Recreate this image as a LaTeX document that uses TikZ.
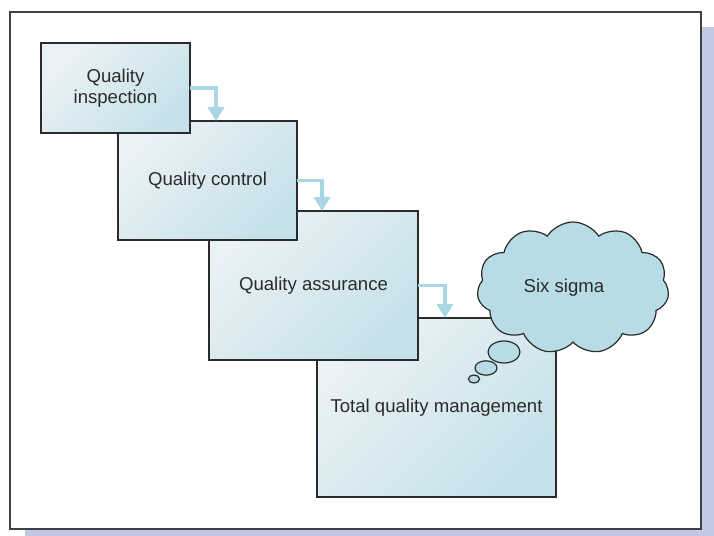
\documentclass[tikz,border=0pt]{standalone}
\usepackage{fontspec}
\setmainfont{Liberation Sans}
\usetikzlibrary{arrows.meta,shapes.symbols}
\definecolor{ink}{HTML}{2B2B2B}
\definecolor{frameline}{HTML}{3F3F3F}
\definecolor{shadow}{HTML}{C0C8E6}
\definecolor{paleblue}{HTML}{EAF2F6}
\definecolor{iceblue}{HTML}{C6E1E9}
\definecolor{cloudblue}{HTML}{B7DCE6}
\definecolor{flowblue}{HTML}{A8D6E3}

\begin{document}
\begin{tikzpicture}[
  x=0.5pt, y=-0.5pt,
  font=\fontsize{9.3}{10.5}\selectfont,
  stage/.style={draw=ink, line width=0.6pt, shading=axis,
    top color=paleblue, bottom color=iceblue, shading angle=45,
    inner sep=0pt, outer sep=0pt, text=ink, align=center},
  flow/.style={draw=flowblue, line width=1.8pt,
    -{Triangle[length=7pt,width=8pt]}},
  bubble/.style={draw=ink, line width=0.6pt, fill=cloudblue}
]
  \useasboundingbox (0,0) rectangle (714,536);

  % frame with its shadow
  \fill[shadow] (25,27) rectangle (714,536);
  \draw[frameline, fill=white, line width=0.7pt] (10,12) rectangle (701,529);

  % stages, the later ones lie underneath
  \node[stage, minimum width=119.5pt, minimum height=89.5pt] (tqm)
    at (436.5,407.5) {Total quality management};
  \node[stage, minimum width=104.5pt, minimum height=74.5pt] (assure)
    at (313.5,285.5) {Quality assurance};
  \node[stage, minimum width=89.5pt, minimum height=59.5pt] (control)
    at (207.5,180.5) {Quality control};
  \node[stage, minimum width=74.5pt, minimum height=45pt] (inspect)
    at (115.5,88) {Quality\\inspection};

  % steps down
  \coordinate (drop1) at ([xshift=13pt]inspect.east |- control.north);
  \coordinate (drop2) at ([xshift=12.5pt]control.east |- assure.north);
  \coordinate (drop3) at ([xshift=13.5pt]assure.east |- tqm.north);
  \draw[flow] (inspect.east) -| (drop1);
  \draw[flow] (control.east) -| (drop2);
  \draw[flow] (assure.east) -| (drop3);

  % thought cloud
  \node[cloud, cloud puffs=11, cloud puff arc=115, aspect=1.45,
    bubble, minimum width=96pt, minimum height=66pt, inner sep=0pt,
    text=ink] (sigma) at (573,288) {\hspace*{-9pt}Six sigma};
  \draw[bubble] (504,352) ellipse [x radius=8pt, y radius=5.5pt];
  \draw[bubble] (486,368) ellipse [x radius=5.5pt, y radius=3.6pt];
  \draw[bubble] (474,379) ellipse [x radius=2.8pt, y radius=2pt];
\end{tikzpicture}
\end{document}
